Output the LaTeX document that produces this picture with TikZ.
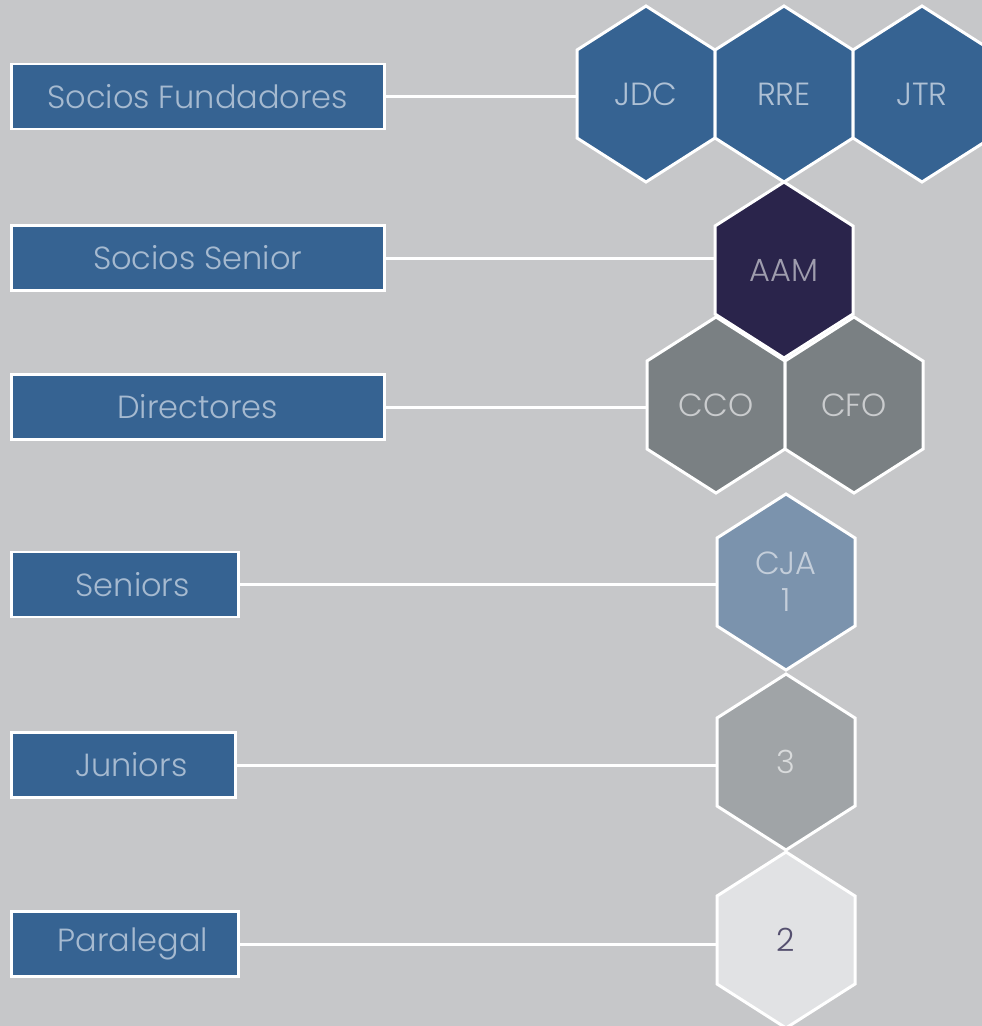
\documentclass[tikz,border=0pt]{standalone}
\usepackage{fontspec}
\setmainfont{Poppins}[UprightFont=* Light]
\usetikzlibrary{positioning}

\definecolor{bggray}{HTML}{C6C7C9}
\definecolor{rankblue}{HTML}{366392}
\definecolor{ranktext}{HTML}{A6BAD0}
\definecolor{navy}{HTML}{2A244B}
\definecolor{slate}{HTML}{7A8083}
\definecolor{steel}{HTML}{7B93AD}
\definecolor{midgray}{HTML}{A0A4A7}
\definecolor{palegray}{HTML}{E1E2E4}

% one hexagon cell: name, x, y, fill, text colour, text
\newcommand{\hexcell}[6]{%
  \filldraw[hexedge, fill=#4] (#2,#3-88) -- (#2+69,#3-44) -- (#2+69,#3+44)
    -- (#2,#3+88) -- (#2-69,#3+44) -- (#2-69,#3-44) -- cycle;
  \node[hexlabel, text=#5] (#1) at (#2,#3) {#6};
}

\begin{document}
\begin{tikzpicture}[
    x=1pt, y=-1pt,
    rank/.style={rectangle, draw=white, fill=rankblue, line width=2.5pt, minimum height=65pt, text=ranktext, font=\fontsize{32}{38}\selectfont, anchor=west, inner sep=0pt},
    nudge/.style={execute at begin node=\hspace*{16pt}},
    hexedge/.style={draw=white, line width=3pt, line join=miter},
    hexlabel/.style={minimum width=138pt, minimum height=100pt, inner sep=0pt, align=center, font=\fontsize{32}{37}\selectfont},
    link/.style={draw=white, line width=3pt}
]

% Background
\fill[bggray] (0,0) rectangle (982,1026);
\useasboundingbox (0,0) rectangle (982,1026);

% Ranks
\node [rank, minimum width=373pt] (fund) at (10,96.5) {Socios Fundadores};
\node [rank, minimum width=373pt] (senior) at (10,258) {Socios Senior};
\node [rank, minimum width=373pt] (dir) at (10,407) {Directores};
\node [rank, nudge, minimum width=227pt] (sen) at (10,584.5) {Seniors};
\node [rank, nudge, minimum width=224pt] (jun) at (10,765) {Juniors};
\node [rank, nudge, minimum width=227pt] (para) at (10,944) {Paralegal};

% Hexagons
\hexcell{jdc}{646}{94}{rankblue}{ranktext!90!white}{JDC}
\hexcell{rre}{784}{94}{rankblue}{ranktext!90!white}{RRE}
\hexcell{jtr}{922}{94}{rankblue}{ranktext!90!white}{JTR}
\hexcell{aam}{784}{270}{navy}{navy!45!white}{AAM}
\hexcell{cco}{716}{405}{slate}{slate!40!white}{CCO}
\hexcell{cfo}{854}{405}{slate}{slate!40!white}{CFO}
\hexcell{cja}{786}{582}{steel}{steel!45!white}{CJA\\1}
\hexcell{three}{786}{762}{midgray}{midgray!40!white}{3}
\hexcell{two}{786}{940}{palegray}{navy!80!white}{2}

% Connections
\draw [link] (fund.east) -- (fund.east -| jdc.west);
\draw [link] (senior.east) -- (senior.east -| aam.west);
\draw [link] (dir.east) -- (dir.east -| cco.west);
\draw [link] (sen.east) -- (sen.east -| cja.west);
\draw [link] (jun.east) -- (jun.east -| three.west);
\draw [link] (para.east) -- (para.east -| two.west);

\end{tikzpicture}
\end{document}
